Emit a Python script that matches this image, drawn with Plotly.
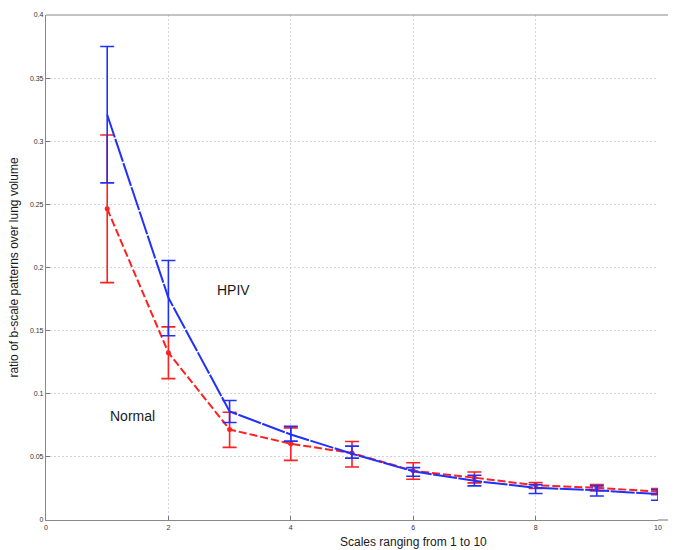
import plotly.graph_objects as go

scales = [1, 2, 3, 4, 5, 6, 7, 8, 9, 10]

hpiv_mean = [0.321, 0.176, 0.086, 0.0677, 0.0525, 0.0386, 0.031, 0.0255, 0.0235, 0.0205]
hpiv_upper = [0.375, 0.2055, 0.0947, 0.0743, 0.0585, 0.0415, 0.0354, 0.028, 0.027, 0.024]
hpiv_lower = [0.267, 0.146, 0.0772, 0.0625, 0.049, 0.0346, 0.027, 0.021, 0.019, 0.0157]

normal_mean = [0.2465, 0.1325, 0.0717, 0.0604, 0.053, 0.039, 0.0335, 0.0275, 0.0255, 0.0225]
normal_upper = [0.305, 0.153, 0.0853, 0.073, 0.0622, 0.0454, 0.038, 0.0297, 0.0281, 0.025]
normal_lower = [0.188, 0.112, 0.0575, 0.0472, 0.042, 0.0323, 0.0294, 0.025, 0.023, 0.020]

x_ticks = [0, 2, 4, 6, 8, 10]
y_ticks = [0, 0.05, 0.1, 0.15, 0.2, 0.25, 0.3, 0.35, 0.4]
y_tick_text = ["0", "0.05", "0.1", "0.15", "0.2", "0.25", "0.3", "0.35", "0.4"]

RED = "#ff2020"
BLUE = "#2030ff"

fig = go.Figure()

fig.add_trace(go.Scatter(
    x=scales, y=normal_mean, mode="lines+markers", name="Normal",
    line=dict(color=RED, width=2, dash="8px,3px"),
    marker=dict(color=RED, size=5),
    error_y=dict(type="data", symmetric=False,
                 array=[u - m for u, m in zip(normal_upper, normal_mean)],
                 arrayminus=[m - l for m, l in zip(normal_mean, normal_lower)],
                 color=RED, thickness=1.6, width=7),
))

fig.add_trace(go.Scatter(
    x=scales, y=hpiv_mean, mode="lines", name="HPIV",
    line=dict(color=BLUE, width=2, dash="24px,1.5px"),
    error_y=dict(type="data", symmetric=False,
                 array=[u - m for u, m in zip(hpiv_upper, hpiv_mean)],
                 arrayminus=[m - l for m, l in zip(hpiv_mean, hpiv_lower)],
                 color=BLUE, thickness=1.6, width=7),
))

fig.add_annotation(x=3.06, y=0.182, text="HPIV", showarrow=False,
                   font=dict(family="Arial, Liberation Sans", size=14, color="#1a1a1a"))
fig.add_annotation(x=1.42, y=0.082, text="Normal", showarrow=False,
                   font=dict(family="Arial, Liberation Sans", size=14, color="#1a1a1a"))
fig.add_annotation(x=6.0, y=0, yref="y", yshift=-13, text="Scales ranging from 1 to 10",
                   showarrow=False, xanchor="center", yanchor="top",
                   font=dict(family="Arial, Liberation Sans", size=12, color="#1a1a1a"))

fig.add_shape(type="line", xref="paper", yref="paper", x0=0, x1=1 + 10 / 612, y0=1, y1=1,
              line=dict(color="#888", width=1.2))
fig.add_shape(type="line", xref="paper", yref="paper", x0=1, x1=1 + 10 / 612, y0=0, y1=0,
              line=dict(color="#888", width=1.2))

fig.update_layout(
    width=676, height=550,
    margin=dict(l=46, r=18, t=11, b=30),
    plot_bgcolor="white", paper_bgcolor="white",
    showlegend=False,
    font=dict(family="Arial, Liberation Sans", size=7, color="#333"),
    xaxis=dict(range=[0, 10], tickvals=x_ticks, ticks="inside", ticklen=4,
               tickcolor="#777", showline=True, linecolor="#888", linewidth=1.2,
               mirror=False, showgrid=True, gridcolor="#d4d4d4", griddash="2px,2px",
               zeroline=False, tickfont=dict(size=7, color="#333")),
    yaxis=dict(range=[0, 0.4], tickvals=y_ticks, ticktext=y_tick_text,
               ticks="inside", ticklen=4, tickcolor="#777", showline=True,
               linecolor="#888", linewidth=1.2, showgrid=True, gridcolor="#d4d4d4",
               griddash="2px,2px", zeroline=False, tickfont=dict(size=7, color="#333"),
               title=dict(text="ratio of b-scale patterns over lung volume",
                          font=dict(size=12, color="#1a1a1a"), standoff=8)),
)

fig.write_html("out.html")
